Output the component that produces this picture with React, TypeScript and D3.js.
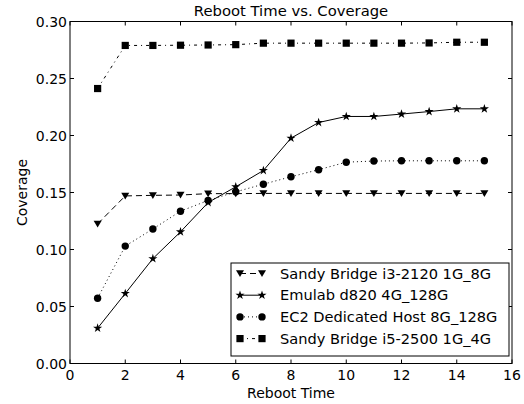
import * as d3 from "d3";

const rebootTimes = [1, 2, 3, 4, 5, 6, 7, 8, 9, 10, 11, 12, 13, 14, 15];

const sandyI3 = [0.1225, 0.147, 0.1475, 0.1478, 0.149, 0.149, 0.1492, 0.1492, 0.1492, 0.1492, 0.1492, 0.1492, 0.1492, 0.1492, 0.1492];
const emulab = [0.031, 0.0614, 0.092, 0.1155, 0.1412, 0.155, 0.1693, 0.1977, 0.2114, 0.2167, 0.2167, 0.2188, 0.221, 0.2234, 0.2234];
const ec2 = [0.0573, 0.103, 0.118, 0.1336, 0.143, 0.1506, 0.1573, 0.1638, 0.17, 0.1766, 0.1776, 0.1778, 0.1778, 0.1778, 0.1778];
const sandyI5 = [0.2412, 0.279, 0.279, 0.2792, 0.2794, 0.2797, 0.281, 0.281, 0.281, 0.281, 0.281, 0.281, 0.2812, 0.2818, 0.2818];

const xTicks = [0, 2, 4, 6, 8, 10, 12, 14, 16];
const yTicks = [0, 0.05, 0.1, 0.15, 0.2, 0.25, 0.3];

type Marker = "tri" | "star" | "circle" | "square";

const series: { name: string; values: number[]; marker: Marker; dash: string }[] = [
  { name: "Sandy Bridge i3-2120 1G_8G", values: sandyI3, marker: "tri", dash: "6,4" },
  { name: "Emulab d820 4G_128G", values: emulab, marker: "star", dash: "none" },
  { name: "EC2 Dedicated Host 8G_128G", values: ec2, marker: "circle", dash: "1,3" },
  { name: "Sandy Bridge i5-2500 1G_4G", values: sandyI5, marker: "square", dash: "3,4,1,4" },
];

const W = 524;
const H = 404;
const m = { left: 70, right: 12, top: 21.5, bottom: 40.5 };
const font = "DejaVu Sans";

function MarkerShape({ type, x, y }: { type: Marker; x: number; y: number }) {
  if (type === "circle") return <circle cx={x} cy={y} r={3.7} fill="black" />;
  if (type === "square") return <rect x={x - 3.6} y={y - 3.6} width={7.2} height={7.2} fill="black" />;
  if (type === "tri") {
    return <path d={`M${x - 4},${y - 3.2}L${x + 4},${y - 3.2}L${x},${y + 3.6}Z`} fill="black" />;
  }
  const star = d3.symbol(d3.symbolStar, 26)();
  return <path d={star ?? ""} transform={`translate(${x},${y})`} fill="black" />;
}

export default function App() {
  const x = d3.scaleLinear().domain([0, 16]).range([m.left, W - m.right]);
  const y = d3.scaleLinear().domain([0, 0.3]).range([H - m.bottom, m.top]);
  const line = d3
    .line<number>()
    .x((_, i) => x(rebootTimes[i]))
    .y((d) => y(d));

  const lx = 231;
  const ly = 263;
  const lw = 278;
  const lh = 93;

  return (
    <svg width={W} height={H} style={{ position: "absolute", left: 0, top: 0, background: "white" }}>
      <text x={(m.left + W - m.right) / 2} y={16} textAnchor="middle" fontFamily={font} fontSize={14.8}>
        Reboot Time vs. Coverage
      </text>
      {series.map((s) => (
        <g key={s.name}>
          <path d={line(s.values) ?? ""} fill="none" stroke="black" strokeWidth={1} strokeDasharray={s.dash} />
          {s.values.map((v, i) => (
            <MarkerShape key={i} type={s.marker} x={x(rebootTimes[i])} y={y(v)} />
          ))}
        </g>
      ))}
      <rect x={m.left} y={m.top} width={W - m.left - m.right} height={H - m.top - m.bottom} fill="none" stroke="black" strokeWidth={1} />
      {xTicks.map((t) => (
        <g key={t}>
          <line x1={x(t)} x2={x(t)} y1={H - m.bottom} y2={H - m.bottom - 4} stroke="black" />
          <line x1={x(t)} x2={x(t)} y1={m.top} y2={m.top + 4} stroke="black" />
          <text x={x(t)} y={H - m.bottom + 16} textAnchor="middle" fontFamily={font} fontSize={14}>
            {t}
          </text>
        </g>
      ))}
      {yTicks.map((t) => (
        <g key={t}>
          <line x1={m.left} x2={m.left + 4} y1={y(t)} y2={y(t)} stroke="black" />
          <line x1={W - m.right} x2={W - m.right - 4} y1={y(t)} y2={y(t)} stroke="black" />
          <text x={m.left - 3} y={y(t) + 5} textAnchor="end" fontFamily={font} fontSize={14}>
            {t.toFixed(2)}
          </text>
        </g>
      ))}
      <text x={(m.left + W - m.right) / 2} y={H - 6} textAnchor="middle" fontFamily={font} fontSize={14}>
        Reboot Time
      </text>
      <text
        transform={`translate(27,${(m.top + H - m.bottom) / 2}) rotate(-90)`}
        textAnchor="middle"
        fontFamily={font}
        fontSize={14}
      >
        Coverage
      </text>
      <rect x={lx} y={ly} width={lw} height={lh} fill="white" stroke="black" strokeWidth={1} />
      {series.map((s, i) => {
        const cy = ly + 10.5 + i * 21.7;
        return (
          <g key={s.name}>
            <line x1={lx + 9} x2={lx + 31} y1={cy} y2={cy} stroke="black" strokeDasharray={s.dash} />
            <MarkerShape type={s.marker} x={lx + 9} y={cy} />
            <MarkerShape type={s.marker} x={lx + 31} y={cy} />
            <text x={lx + 49} y={cy + 5} fontFamily={font} fontSize={14.6}>
              {s.name}
            </text>
          </g>
        );
      })}
    </svg>
  );
}
